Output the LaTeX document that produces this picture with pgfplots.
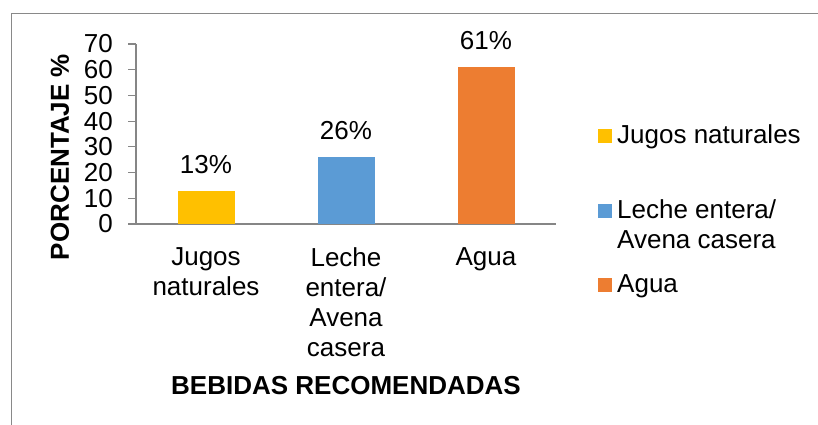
\documentclass[border=0pt]{standalone}
\usepackage{fontspec}
\setmainfont{Liberation Sans}
\usepackage{pgfplots}
\pgfplotsset{compat=1.18}
\definecolor{cyel}{HTML}{FFC000}
\definecolor{cblu}{HTML}{5B9BD5}
\definecolor{cora}{HTML}{ED7D31}
\definecolor{axg}{HTML}{868686}
\definecolor{frg}{HTML}{898989}
\newcommand\fs{\fontsize{26}{30}\selectfont}
\begin{document}
\begin{tikzpicture}
\useasboundingbox (0,0) rectangle (818pt,425pt);
\draw[frg, line width=1pt] (11pt,0pt) -- (11pt,411pt) -- (818pt,411pt);
\begin{axis}[
 at={(136pt,201pt)}, anchor=south west,
 scale only axis, width=420pt, height=180pt,
 xmin=-0.5, xmax=2.5, ymin=0, ymax=70,
 ybar, bar width=57pt, bar shift=0pt,
 axis x line*=bottom, axis y line*=left,
 axis line style={axg, line width=1.2pt},
 ytick={0,10,...,70},
 xtick={0,1,2},
 xticklabels={{Jugos\\naturales},{Leche\\entera/\\Avena\\casera},{Agua}},
 major x tick style={draw=none},
 major y tick style={axg, line width=1.2pt},
 major tick length=8pt, tick align=outside,
 /pgf/number format/assume math mode=true,
 ticklabel style={font=\fs},
 yticklabel style={inner sep=0pt, xshift=-15pt},
 xticklabel style={align=center, inner sep=0pt, anchor=north, yshift=-15pt},
 clip=false,
 nodes near coords={\pgfmathprintnumber{\pgfplotspointmeta}\%},
 every node near coord/.append style={font=\fs, anchor=base, inner sep=0pt, yshift=17.5pt},
 xlabel={BEBIDAS RECOMENDADAS}, ylabel={PORCENTAJE \%},
 every axis x label/.style={at={(axis description cs:0.5,-0.9)}, anchor=center, font=\fs\bfseries},
 every axis y label/.style={at={(axis description cs:-0.181,0.372)}, rotate=90, anchor=center, font=\fs\bfseries},
 legend style={at={(axis description cs:1.1,0.5611)}, anchor=north west, draw=none, fill=none, inner sep=0pt, column sep=5pt, row sep=0pt, font=\fs, nodes={inner sep=0pt, text depth=}, cells={anchor=base west}},
 legend image code/.code={\fill[#1] (0pt,0.5pt) rectangle (14pt,14.5pt);},
]
\addplot[fill=cyel, draw=none] coordinates {(0,13)};
\addlegendentry{Jugos naturales\rule[-55pt]{0pt}{75pt}}
\addplot[fill=cblu, draw=none] coordinates {(1,26)};
\addlegendentry{Leche entera/\rule[-10pt]{0pt}{30pt}}
\addlegendimage{empty legend}
\addlegendentry{Avena casera\rule[-24pt]{0pt}{44pt}}
\addplot[fill=cora, draw=none] coordinates {(2,61)};
\addlegendentry{Agua\rule[-6pt]{0pt}{26pt}}
\end{axis}
\end{tikzpicture}
\end{document}
